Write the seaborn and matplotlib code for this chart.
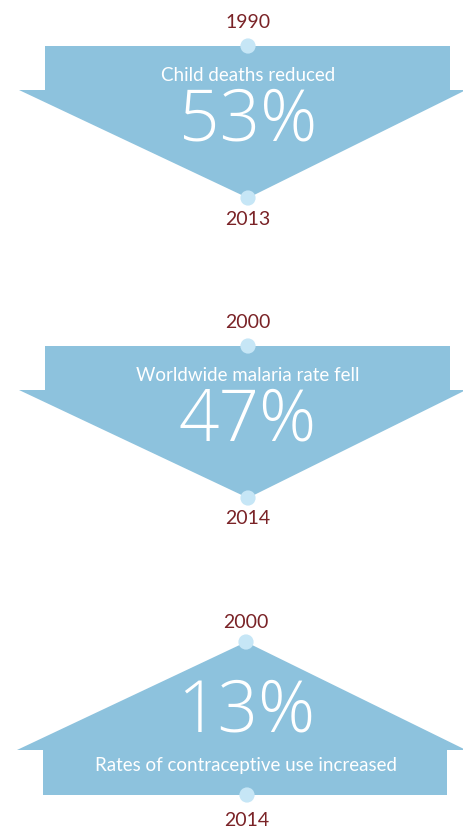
import matplotlib
matplotlib.use("Agg")
import matplotlib.pyplot as plt
import seaborn as sns
import pandas as pd
from matplotlib.patches import Polygon

# ---- data ----
titles = ["Child deaths reduced", "Worldwide malaria rate fell", "Rates of contraceptive use increased"]
percents = ["53%", "47%", "13%"]
start_years = ["1990", "2000", "2000"]
end_years = ["2013", "2014", "2014"]
directions = ["down", "down", "up"]

sns.set_theme(style="white")
plt.rcParams['font.family'] = ['Lato', 'DejaVu Sans']

W, H = 464, 833
fig = plt.figure(figsize=(W / 100, H / 100), dpi=100)
ax = fig.add_axes([0, 0, 1, 1])

FILL = "#8dc2dd"
DOT = "#c6e6f6"
YEAR = "#7a2327"
BIG = dict(ha="center", va="center", color="white", fontsize=51,
           family=["Open Sans", "DejaVu Sans"], fontweight="light", zorder=3)
SMALL = dict(ha="center", va="center", color="white", fontsize=13.5, fontweight="normal", zorder=3)
YR = dict(ha="center", va="center", color=YEAR, fontsize=14, fontweight="normal")

offsets = [0, 300, 600]
dots = []
for i, (t, p, sy, ey, d) in enumerate(zip(titles, percents, start_years, end_years, directions)):
    o = offsets[i]
    if d == "down":
        cx = 248
        top, mid, tip = o + 46, o + 90, o + 198
        poly = [(45, top), (450, top), (450, mid), (466, mid), (cx, tip),
                (19, mid), (45, mid)]
        ax.add_patch(Polygon(poly, closed=True, facecolor=FILL, edgecolor="none", zorder=1))
        dots += [(cx, top), (cx, tip)]
        ax.text(cx, o + 22, sy, **YR)
        ax.text(cx, tip + 21, ey, **YR)
        ax.text(cx, o + 75, t, **SMALL)
        ax.text(cx, o + 121, p, **BIG)
    else:
        cx = 246
        tip, mid, bot = o + 42, o + 150, o + 195
        poly = [(cx, tip), (466, mid), (447, mid), (447, bot), (43, bot), (43, mid), (17, mid)]
        ax.add_patch(Polygon(poly, closed=True, facecolor=FILL, edgecolor="none", zorder=1))
        dots += [(cx, tip), (cx + 1, bot)]
        ax.text(cx, o + 22, sy, **YR)
        ax.text(cx + 1, o + 220, ey, **YR)
        ax.text(cx, o + 165, t, **SMALL)
        ax.text(cx, o + 113, p, **BIG)

dot_df = pd.DataFrame(dots, columns=["x", "y"])
sns.scatterplot(data=dot_df, x="x", y="y", ax=ax, s=120, color=DOT, edgecolor="none", zorder=4, legend=False)
ax.set_xlim(0, W)
ax.set_ylim(H, 0)
ax.axis("off")

fig.savefig("out.png", dpi=100, facecolor="white")
